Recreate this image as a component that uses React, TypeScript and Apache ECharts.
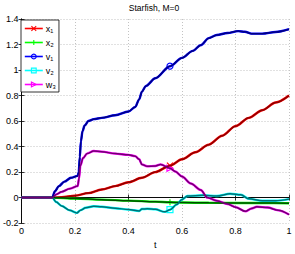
import React, { useEffect, useRef } from "react";
import * as echarts from "echarts";

const FONT = '"Liberation Sans", Arial, Helvetica, sans-serif';

const TITLE = "Starfish, M=0";
const X_NAME = "t";
const MARK_T = 0.555;

const x1T = [0, 0.115, 0.15, 0.2, 0.25, 0.3, 0.35, 0.4, 0.45, 0.5, 0.555, 0.6, 0.65, 0.7, 0.75, 0.8, 0.85, 0.9, 0.95, 1.0];
const x1V = [0, 0, 0.003, 0.015, 0.035, 0.063, 0.09, 0.12, 0.155, 0.2, 0.25, 0.3, 0.355, 0.415, 0.485, 0.56, 0.625, 0.685, 0.745, 0.8];

const x2T = [0, 0.115, 0.2, 0.3, 0.4, 0.5, 0.555, 0.6, 0.7, 0.8, 0.9, 1.0];
const x2V = [0, 0, -0.008, -0.016, -0.024, -0.032, -0.037, -0.039, -0.041, -0.042, -0.043, -0.044];

const v1T = [0, 0.115, 0.125, 0.14, 0.16, 0.185, 0.21, 0.214, 0.218, 0.222, 0.228, 0.236, 0.25, 0.27, 0.3, 0.35, 0.4, 0.425, 0.44, 0.45, 0.465, 0.5, 0.555, 0.6, 0.64, 0.67, 0.7, 0.73, 0.77, 0.81, 0.835, 0.86, 0.9, 0.95, 1.0];
const v1V = [0, 0, 0.05, 0.09, 0.125, 0.155, 0.17, 0.2, 0.32, 0.44, 0.52, 0.565, 0.6, 0.615, 0.625, 0.645, 0.675, 0.71, 0.77, 0.83, 0.875, 0.935, 1.03, 1.095, 1.15, 1.195, 1.25, 1.275, 1.29, 1.305, 1.3, 1.285, 1.285, 1.298, 1.32];

const v2T = [0, 0.115, 0.13, 0.15, 0.18, 0.207, 0.22, 0.24, 0.27, 0.3, 0.35, 0.4, 0.44, 0.45, 0.47, 0.5, 0.535, 0.555, 0.58, 0.6, 0.62, 0.68, 0.73, 0.78, 0.82, 0.85, 0.9, 0.95, 1.0];
const v2V = [0, 0, -0.035, -0.065, -0.1, -0.12, -0.1, -0.08, -0.068, -0.072, -0.083, -0.094, -0.105, -0.09, -0.088, -0.092, -0.112, -0.095, -0.055, -0.015, 0.012, 0.018, 0.012, 0.03, 0.022, -0.01, -0.025, -0.025, -0.012];

const w3T = [0, 0.115, 0.13, 0.15, 0.18, 0.21, 0.215, 0.22, 0.23, 0.245, 0.27, 0.3, 0.35, 0.4, 0.425, 0.44, 0.45, 0.47, 0.5, 0.52, 0.555, 0.575, 0.6, 0.633, 0.67, 0.695, 0.73, 0.77, 0.8, 0.837, 0.86, 0.88, 0.92, 0.96, 1.0];
const w3V = [0, 0, 0.025, 0.045, 0.07, 0.09, 0.15, 0.25, 0.31, 0.345, 0.365, 0.36, 0.345, 0.335, 0.325, 0.3, 0.26, 0.245, 0.248, 0.26, 0.23, 0.205, 0.165, 0.11, 0.06, 0.0, -0.025, -0.05, -0.075, -0.108, -0.085, -0.072, -0.078, -0.1, -0.133];

const NAMES = ["x₁", "x₂", "v₁", "v₂", "w₃"];

const SERIES_DEF = [
  { name: NAMES[0], t: x1T, v: x1V, bright: "#ff0000", dark: "#8c0000", symbol: "path://M0,0L10,10M0,10L10,0" },
  { name: NAMES[1], t: x2T, v: x2V, bright: "#00ff00", dark: "#004a00", symbol: "path://M5,0L5,10M0,5L10,5" },
  { name: NAMES[2], t: v1T, v: v1V, bright: "#0000ff", dark: "#000080", symbol: "circle" },
  { name: NAMES[3], t: v2T, v: v2V, bright: "#00ffff", dark: "#006e73", symbol: "rect" },
  { name: NAMES[4], t: w3T, v: w3V, bright: "#ff00ff", dark: "#700070", symbol: "path://M0,0L10,5L0,10Z" },
];

export default function App() {
  const ref = useRef<HTMLDivElement>(null);
  useEffect(() => {
    if (!ref.current) return;
    const chart = echarts.init(ref.current, undefined, { renderer: "svg" });
    const series: any[] = [];
    SERIES_DEF.forEach((s, k) => {
      series.push({
        name: s.name,
        type: "line",
        z: 2 + k,
        smooth: 0.3,
        smoothMonotone: "x",
        symbol: s.symbol,
        symbolSize: 6,
        showSymbol: true,
        showAllSymbol: true,
        lineStyle: { color: s.bright, width: 2.4 },
        itemStyle: { color: "rgba(255,255,255,0)", borderColor: s.bright, borderWidth: 1.2 },
        data: s.t.map((x, i) =>
          Math.abs(x - MARK_T) < 1e-9 ? { value: [x, s.v[i]] } : { value: [x, s.v[i]], symbol: "none" }
        ),
      });
    });
    SERIES_DEF.forEach((s, k) => {
      series.push({
        name: s.name + "_dark",
        type: "line",
        z: 10 + k,
        silent: true,
        smooth: 0.3,
        smoothMonotone: "x",
        symbol: "none",
        lineStyle: { color: s.dark, width: 1.5 },
        data: s.t.map((x, i) => [x, s.v[i]]),
      });
    });

    const axisLine = { show: true, lineStyle: { color: "#000", width: 0.8 } };
    const tick = { show: true, inside: true, length: 3, lineStyle: { color: "#000", width: 0.8 } };
    const split = { show: true, lineStyle: { color: "#b4b4b4", width: 0.8, type: [1, 2] as any } };
    const fmt = (v: number) => String(+v.toFixed(1));

    chart.setOption({
      animation: false,
      backgroundColor: "#fff",
      textStyle: { fontFamily: FONT },
      grid: { left: 19, right: 6, top: 19, bottom: 23, containLabel: false },
      graphic: [
        {
          type: "text",
          x: 154,
          y: 8,
          style: { text: TITLE, fontSize: 8.5, fontFamily: FONT, fill: "#000", textAlign: "center", textVerticalAlign: "middle" },
        },
      ],
      legend: {
        orient: "vertical",
        left: 21,
        top: 20,
        backgroundColor: "#fff",
        borderColor: "#000",
        borderWidth: 0.8,
        borderRadius: 0,
        padding: [4, 3, 3, 3],
        itemGap: 5,
        itemWidth: 18,
        itemHeight: 6,
        lineStyle: { width: 1.6 },
        itemStyle: { color: "rgba(255,255,255,0)", borderWidth: 1.1 },
        textStyle: { fontSize: 9, fontFamily: FONT, color: "#000", padding: [0, 0, 0, -2] },
        data: NAMES,
        selectedMode: false,
      },
      xAxis: [
        {
          type: "value",
          min: 0,
          max: 1,
          interval: 0.2,
          name: X_NAME,
          nameLocation: "middle",
          nameGap: 14,
          nameTextStyle: { fontSize: 9, fontFamily: FONT, color: "#000" },
          axisLine,
          axisTick: tick,
          splitLine: split,
          axisLabel: { fontSize: 9, fontFamily: FONT, color: "#000", margin: 3, formatter: fmt },
        },
        {
          type: "value",
          position: "top",
          min: 0,
          max: 1,
          interval: 0.2,
          axisLine,
          axisTick: tick,
          splitLine: { show: false },
          axisLabel: { show: false },
        },
      ],
      yAxis: [
        {
          type: "value",
          min: -0.2,
          max: 1.4,
          interval: 0.2,
          axisLine,
          axisTick: tick,
          splitLine: split,
          axisLabel: { fontSize: 9, fontFamily: FONT, color: "#000", margin: 3, formatter: fmt },
        },
        {
          type: "value",
          position: "right",
          min: -0.2,
          max: 1.4,
          interval: 0.2,
          axisLine,
          axisTick: tick,
          splitLine: { show: false },
          axisLabel: { show: false },
        },
      ],
      series,
    });
    return () => chart.dispose();
  }, []);
  return <div ref={ref} style={{ width: 295, height: 254, position: "absolute", left: 0, top: 0 }} />;
}
